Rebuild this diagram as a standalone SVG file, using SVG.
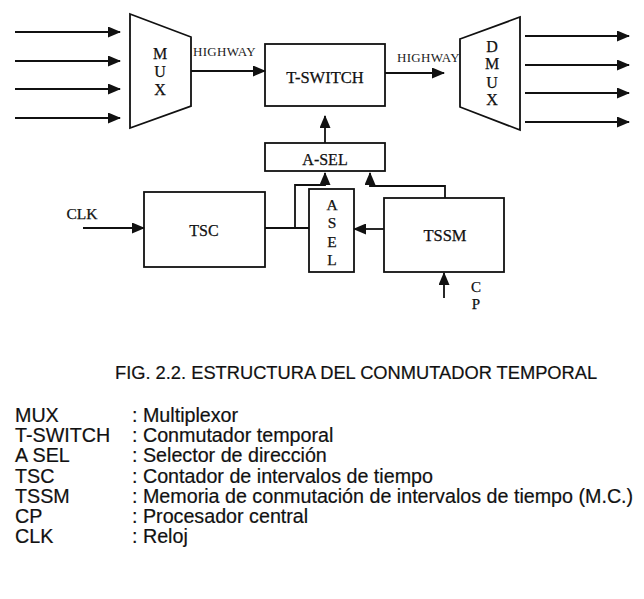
<svg xmlns="http://www.w3.org/2000/svg" width="644" height="599" viewBox="0 0 644 599">
<defs>
<style>
.box{fill:none;stroke:#111;stroke-width:1.8}
.ln{fill:none;stroke:#111;stroke-width:1.8}
.arr{marker-end:url(#ah)}
.t{font-family:"Liberation Serif","Times New Roman",serif;fill:#111;text-anchor:middle;stroke:#111;stroke-width:0.25}
.hw{font-family:"Liberation Serif","Times New Roman",serif;fill:#222;font-size:13px;letter-spacing:0.3px}
.cap{font-family:"Liberation Sans",Arial,sans-serif;fill:#111;font-size:18.3px;stroke:#111;stroke-width:0.2}
.lg{font-family:"Liberation Sans",Arial,sans-serif;fill:#111;font-size:19.7px;stroke:#111;stroke-width:0.2}
</style>
<marker id="ah" markerUnits="userSpaceOnUse" markerWidth="13" markerHeight="11" refX="12" refY="5.5" orient="auto">
<path d="M0,0 L13,5.5 L0,11 z" fill="#111"/>
</marker>
</defs>
<rect width="644" height="599" fill="#fff"/>

<g id="connectors">
<line class="ln arr" x1="15" y1="32" x2="120" y2="32"/>
<line class="ln arr" x1="15" y1="61" x2="120" y2="61"/>
<line class="ln arr" x1="15" y1="89" x2="120" y2="89"/>
<line class="ln arr" x1="15" y1="118" x2="120" y2="118"/>
<line class="ln arr" x1="191" y1="71" x2="265" y2="71"/>
<line class="ln arr" x1="385" y1="73" x2="444" y2="73"/>
<line class="ln arr" x1="525" y1="36" x2="629" y2="36"/>
<line class="ln arr" x1="525" y1="65" x2="629" y2="65"/>
<line class="ln arr" x1="525" y1="93" x2="629" y2="93"/>
<line class="ln arr" x1="525" y1="122" x2="629" y2="122"/>
<line class="ln arr" x1="325" y1="143" x2="325" y2="116"/>
<line class="ln" x1="265" y1="228" x2="309" y2="228"/>
<path class="ln arr" d="M295,228 V185 H325 V173"/>
<path class="ln arr" d="M445,198 V186 H370 V173"/>
<line class="ln arr" x1="83" y1="228" x2="144" y2="228"/>
<line class="ln arr" x1="384" y1="229" x2="354" y2="229"/>
<line class="ln arr" x1="444" y1="298" x2="444" y2="273"/>
</g>

<g id="mux">
<polygon class="box" points="130,14 191,37 191,106 130,128"/>
<text class="t" font-size="16" x="160" y="59">M</text>
<text class="t" font-size="16" x="160" y="77">U</text>
<text class="t" font-size="16" x="160" y="95">X</text>
</g>
<text class="hw" x="193" y="56">HIGHWAY</text>

<g id="tswitch">
<rect class="box" x="265" y="44" width="120" height="62"/>
<text class="t" font-size="16.5" x="325" y="83">T-SWITCH</text>
</g>
<text class="hw" x="397" y="62">HIGHWAY</text>

<g id="dmux">
<polygon class="box" points="460,39 520,17 520,130 460,107"/>
<text class="t" font-size="16" x="492" y="52">D</text>
<text class="t" font-size="16" x="492" y="69">M</text>
<text class="t" font-size="16" x="492" y="88">U</text>
<text class="t" font-size="16" x="492" y="105">X</text>
</g>

<g id="a-sel">
<rect class="box" x="265" y="143" width="120" height="28"/>
<text class="t" font-size="16" x="325" y="165">A-SEL</text>
</g>

<g id="asel">
<rect class="box" x="309" y="189" width="45" height="83"/>
<text class="t" font-size="15.5" x="332" y="210">A</text>
<text class="t" font-size="15.5" x="332" y="228">S</text>
<text class="t" font-size="15.5" x="332" y="247">E</text>
<text class="t" font-size="15.5" x="332" y="265">L</text>
</g>

<g id="tsc">
<rect class="box" x="144" y="192" width="121" height="75"/>
<text class="t" font-size="16" x="204" y="236">TSC</text>
</g>

<g id="tssm">
<rect class="box" x="384" y="198" width="120" height="74"/>
<text class="t" font-size="16.5" x="445" y="241">TSSM</text>
</g>

<g id="clk">
<text class="t" font-size="15.5" x="82" y="219">CLK</text>
</g>
<g id="cp">
<text class="t" font-size="15" x="476" y="292">C</text>
<text class="t" font-size="15" x="476" y="309">P</text>
</g>

<text class="cap" x="115" y="379">FIG. 2.2. ESTRUCTURA DEL CONMUTADOR TEMPORAL</text>

<g id="legend">
<text class="lg" x="15" y="422">MUX</text>
<text class="lg" x="15" y="442">T-SWITCH</text>
<text class="lg" x="15" y="462">A SEL</text>
<text class="lg" x="15" y="483">TSC</text>
<text class="lg" x="15" y="503">TSSM</text>
<text class="lg" x="15" y="523">CP</text>
<text class="lg" x="15" y="543">CLK</text>
<text class="lg" x="132" y="422">: Multiplexor</text>
<text class="lg" x="132" y="442">: Conmutador temporal</text>
<text class="lg" x="132" y="462">: Selector de dirección</text>
<text class="lg" x="132" y="483">: Contador de intervalos de tiempo</text>
<text class="lg" x="132" y="503">: Memoria de conmutación de intervalos de tiempo (M.C.)</text>
<text class="lg" x="132" y="523">: Procesador central</text>
<text class="lg" x="132" y="543">: Reloj</text>
</g>
</svg>
